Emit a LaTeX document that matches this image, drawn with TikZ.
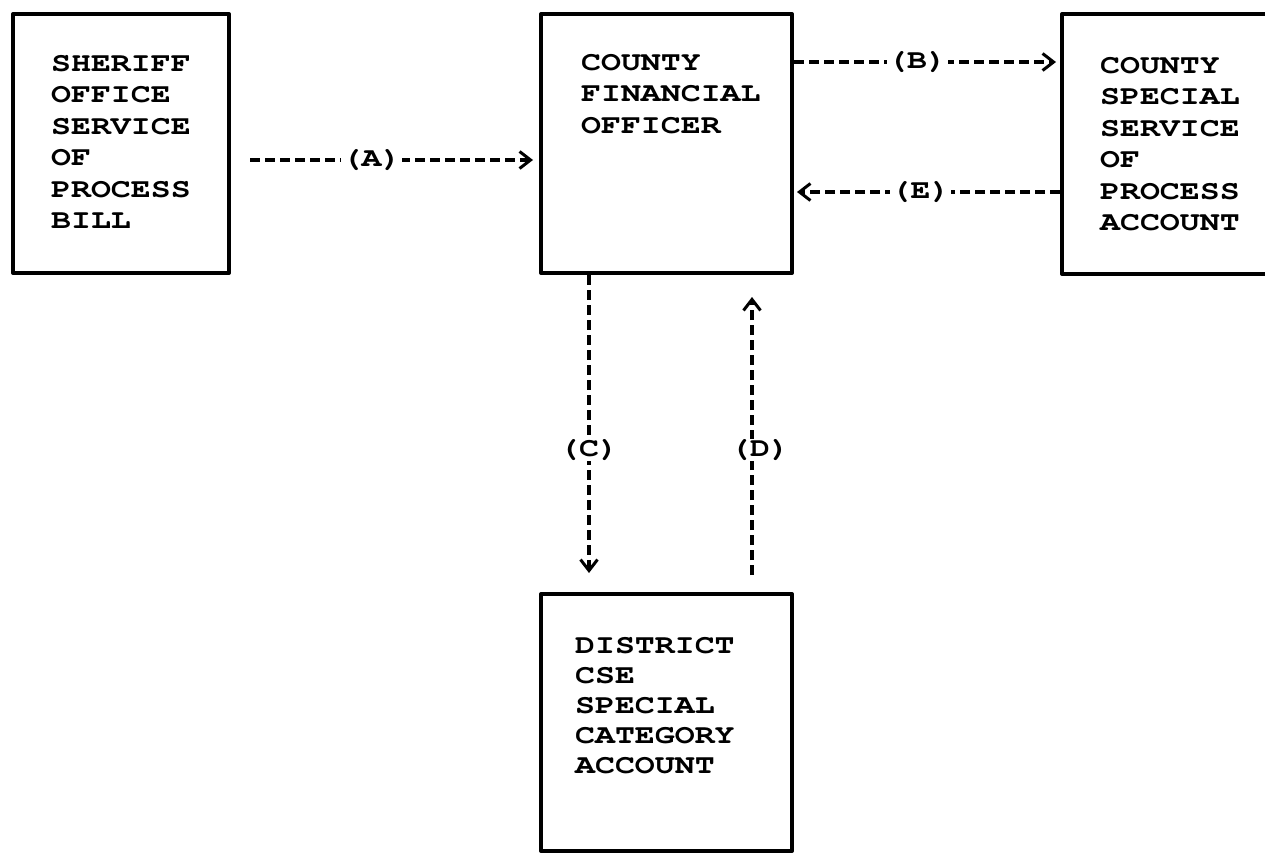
\documentclass[tikz,border=0pt]{standalone}
\usepackage{fontspec}
\usepackage{tikz}
\usetikzlibrary{arrows.meta,positioning}
\newfontfamily\typefont[FakeStretch=1.23]{texgyrecursor-bold.otf}

\begin{document}
\begin{tikzpicture}[
        x=1pt, y=-1pt,
        font=\typefont\fontsize{27}{31.5}\selectfont,
        box/.style={draw, line width=4pt, line join=round, inner sep=0pt},
        boxtext/.style={inner sep=0pt, align=left},
        flow/.style={line width=3.2pt, dash pattern=on 10pt off 5pt,
            -{Straight Barb[length=11pt, width=17pt, line width=3pt]}},
        tag/.style={fill=white, inner sep=0.5pt},
    ]
    \path[use as bounding box, clip] (0,0) rectangle (1265,854);
    % the four offices
    \node[box, minimum width=216pt, minimum height=259pt] (sheriff) at (121,143.5) {};
    \node[box, minimum width=251pt, minimum height=259pt] (cfo) at (666.5,143.5) {};
    \node[box, minimum width=260pt, minimum height=260pt] (special) at (1192,144) {};
    \node[box, minimum width=251pt, minimum height=257pt] (district) at (666.5,722.5) {};
    \node[boxtext, below right=43pt and 40pt of sheriff.north west] (sherifftext)
        {SHERIFF\\OFFICE\\SERVICE\\OF\\PROCESS\\BILL};
    \node[boxtext, below right=42pt and 42pt of cfo.north west] (cfotext)
        {COUNTY\\FINANCIAL\\OFFICER};
    \node[boxtext, below right=45pt and 40pt of special.north west] (specialtext)
        {COUNTY\\SPECIAL\\SERVICE\\OF\\PROCESS\\ACCOUNT};
    \node[boxtext, font=\typefont\fontsize{27}{30}\selectfont,
        below right=45pt and 36pt of district.north west] (districttext)
        {DISTRICT\\CSE\\SPECIAL\\CATEGORY\\ACCOUNT};
    % money flows
    \draw[flow] ([xshift=19pt]sheriff.east |- 0,160) -- node[tag, pos=0.43] (a) {(A)}
        ([xshift=-6pt]cfo.west |- 0,160);
    \draw[flow] (cfo.east |- 0,62) -- node[tag, pos=0.47] (b) {(B)}
        ([xshift=-4pt]special.west |- 0,62);
    \draw[flow] (special.west |- 0,192) -- node[tag, pos=0.53] (e) {(E)}
        ([xshift=3pt]cfo.east |- 0,192);
    \draw[flow] (cfo.south -| 589,0) -- node[tag, pos=0.586] (c) {(C)}
        ([yshift=19pt]district.north -| 589,0);
    \draw[flow] ([yshift=17pt]district.north -| 752,0) -- node[tag, pos=0.45, xshift=8pt] (d) {(D)}
        ([yshift=-22pt]cfo.south -| 752,0);
\end{tikzpicture}
\end{document}
